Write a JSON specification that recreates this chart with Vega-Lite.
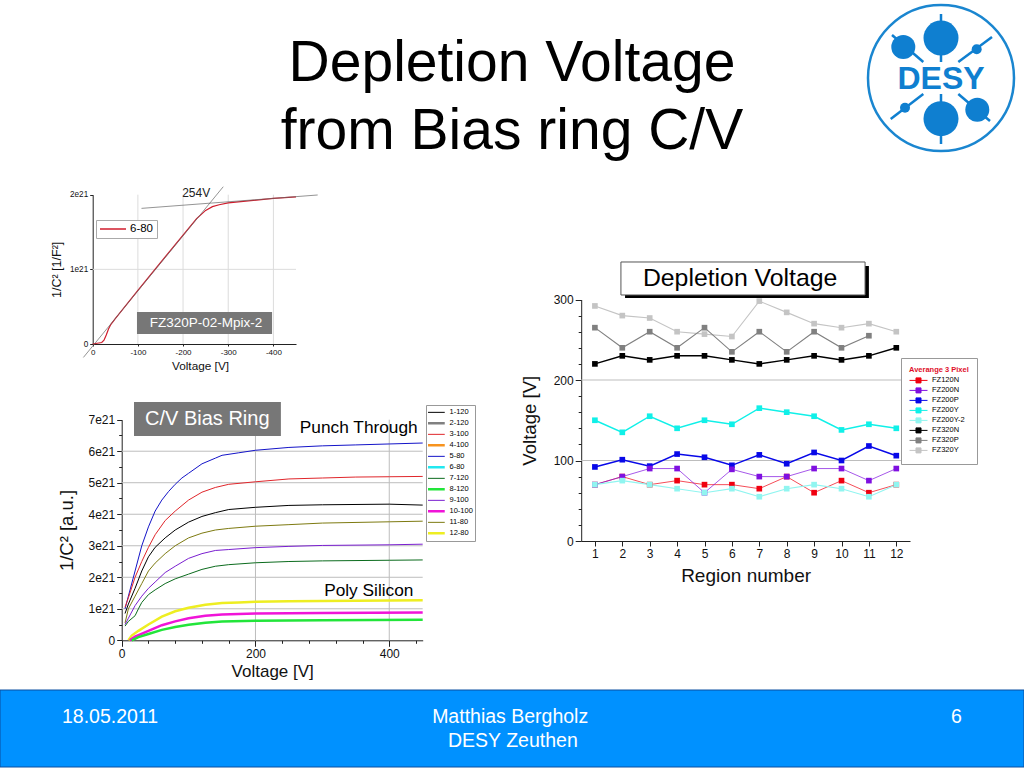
{"$schema":"https://vega.github.io/schema/vega-lite/v6.json","width":1024,"height":768,"padding":0,"autosize":{"type":"none"},"background":"white",
"title":{"text":["Depletion Voltage","from Bias ring C/V"],"fontSize":57,"font":"Liberation Sans","fontWeight":"normal","lineHeight":68,"anchor":"middle","frame":"group","offset":0,"dy":206,"baseline":"alphabetic","color":"#000"},
"config":{"font":"Liberation Sans","view":{"stroke":null},"axis":{"labelFont":"Liberation Sans","titleFont":"Liberation Sans","titleFontWeight":"normal","domainColor":"#222","tickColor":"#222","labelColor":"#111","titleColor":"#111","grid":false,"labelOverlap":false,"labelFlush":false},"legend":{"labelFont":"Liberation Sans","titleFont":"Liberation Sans"}},
"datasets":{
"footer":[{"x":0,"x2":100,"y":0,"y2":1}],
"footerText":[{"x":6.05,"y":0.65,"t":"18.05.2011"},{"x":42.2,"y":0.65,"t":"Matthias Bergholz"},{"x":43.75,"y":0.34,"t":"DESY Zeuthen"}],
"pageNo":[{"x":93.4,"y":0.65,"t":"6"}],
"logoLines":[{"x":0,"y":64,"x2":0,"y2":16},{"x":0,"y":-16,"x2":0,"y2":-66},{"x":-49,"y":43,"x2":-17.7,"y2":16},{"x":17.3,"y":-16,"x2":49,"y2":-43},{"x":51,"y":41,"x2":17.3,"y2":16},{"x":-50.3,"y":-41,"x2":-17.7,"y2":-16}],
"logoLarge":[{"x":0,"y":40},{"x":0,"y":-40.7}],
"logoMid":[{"x":-37.7,"y":31},{"x":36.3,"y":-31.7}],
"logoSmall":[{"x":35.7,"y":28.7},{"x":-36,"y":-29.7}],
"logoRing":[{"x":0,"y":0}],
"logoText":[{"x":0,"y":-1,"t":"DESY"}],
"aGrid":[{"x":-100,"x2":-100,"y":0,"y2":2},{"x":-200,"x2":-200,"y":0,"y2":2},{"x":-300,"x2":-300,"y":0,"y2":2},{"x":-400,"x2":-400,"y":0,"y2":2},{"x":0,"x2":-450,"y":1,"y2":1}],
"aCurve":[{"s":"6-80","v":0,"c":0},{"s":"6-80","v":-10,"c":0.01},{"s":"6-80","v":-20,"c":0.02},{"s":"6-80","v":-25,"c":0.05},{"s":"6-80","v":-30,"c":0.12},{"s":"6-80","v":-35,"c":0.2},{"s":"6-80","v":-40,"c":0.26},{"s":"6-80","v":-50,"c":0.34},{"s":"6-80","v":-100,"c":0.72},{"s":"6-80","v":-150,"c":1.09},{"s":"6-80","v":-200,"c":1.46},{"s":"6-80","v":-230,"c":1.68},{"s":"6-80","v":-250,"c":1.79},{"s":"6-80","v":-265,"c":1.84},{"s":"6-80","v":-280,"c":1.865},{"s":"6-80","v":-300,"c":1.89},{"s":"6-80","v":-350,"c":1.92},{"s":"6-80","v":-400,"c":1.95},{"s":"6-80","v":-450,"c":1.97}],
"aFit":[{"x":20.6,"y":-0.18,"x2":-289,"y2":2.107},{"x":-108,"y":1.817,"x2":-498,"y2":1.996}],
"aNote":[{"x":-229,"y":2.02,"t":"254V"}],
"aBox":[{"x":-98,"x2":-397,"y":0.43,"y2":0.134}],
"aBoxText":[{"x":-251,"y":0.28,"t":"FZ320P-02-Mpix-2"}],
"bGrid":[{"x":200,"x2":200,"y":0,"y2":7},{"x":400,"x2":400,"y":0,"y2":7},{"x":0,"x2":450,"y":1,"y2":1},{"x":0,"x2":450,"y":2,"y2":2},{"x":0,"x2":450,"y":3,"y2":3},{"x":0,"x2":450,"y":4,"y2":4},{"x":0,"x2":450,"y":5,"y2":5},{"x":0,"x2":450,"y":6,"y2":6}],
"ticksX40":[{"t":40},{"t":80},{"t":120},{"t":160},{"t":240},{"t":280},{"t":320},{"t":360},{"t":440}],
"bCurve":[
{"s":"5-80","v":5,"c":1.0},{"s":"5-80","v":10,"c":1.4},{"s":"5-80","v":20,"c":2.2},{"s":"5-80","v":30,"c":3.0},{"s":"5-80","v":40,"c":3.6},{"s":"5-80","v":50,"c":4.1},{"s":"5-80","v":60,"c":4.45},{"s":"5-80","v":70,"c":4.72},{"s":"5-80","v":80,"c":4.95},{"s":"5-80","v":90,"c":5.15},{"s":"5-80","v":100,"c":5.3},{"s":"5-80","v":120,"c":5.6},{"s":"5-80","v":140,"c":5.78},{"s":"5-80","v":150,"c":5.87},{"s":"5-80","v":175,"c":5.95},{"s":"5-80","v":200,"c":6.03},{"s":"5-80","v":250,"c":6.12},{"s":"5-80","v":300,"c":6.17},{"s":"5-80","v":350,"c":6.2},{"s":"5-80","v":400,"c":6.23},{"s":"5-80","v":450,"c":6.26},
{"s":"3-100","v":5,"c":1.05},{"s":"3-100","v":10,"c":1.35},{"s":"3-100","v":20,"c":2.0},{"s":"3-100","v":30,"c":2.5},{"s":"3-100","v":40,"c":2.95},{"s":"3-100","v":50,"c":3.35},{"s":"3-100","v":65,"c":3.8},{"s":"3-100","v":80,"c":4.1},{"s":"3-100","v":100,"c":4.45},{"s":"3-100","v":120,"c":4.7},{"s":"3-100","v":140,"c":4.85},{"s":"3-100","v":160,"c":4.95},{"s":"3-100","v":200,"c":5.03},{"s":"3-100","v":250,"c":5.12},{"s":"3-100","v":300,"c":5.15},{"s":"3-100","v":350,"c":5.18},{"s":"3-100","v":400,"c":5.19},{"s":"3-100","v":450,"c":5.2},
{"s":"1-120","v":5,"c":0.85},{"s":"1-120","v":10,"c":1.15},{"s":"1-120","v":20,"c":1.65},{"s":"1-120","v":30,"c":2.2},{"s":"1-120","v":40,"c":2.65},{"s":"1-120","v":50,"c":2.95},{"s":"1-120","v":65,"c":3.25},{"s":"1-120","v":80,"c":3.5},{"s":"1-120","v":100,"c":3.75},{"s":"1-120","v":120,"c":3.93},{"s":"1-120","v":140,"c":4.05},{"s":"1-120","v":160,"c":4.15},{"s":"1-120","v":200,"c":4.22},{"s":"1-120","v":250,"c":4.28},{"s":"1-120","v":300,"c":4.3},{"s":"1-120","v":400,"c":4.32},{"s":"1-120","v":450,"c":4.29},
{"s":"11-80","v":5,"c":0.55},{"s":"11-80","v":10,"c":1.0},{"s":"11-80","v":20,"c":1.4},{"s":"11-80","v":30,"c":1.8},{"s":"11-80","v":40,"c":2.2},{"s":"11-80","v":50,"c":2.45},{"s":"11-80","v":65,"c":2.75},{"s":"11-80","v":80,"c":3.0},{"s":"11-80","v":100,"c":3.25},{"s":"11-80","v":120,"c":3.4},{"s":"11-80","v":140,"c":3.5},{"s":"11-80","v":160,"c":3.55},{"s":"11-80","v":200,"c":3.62},{"s":"11-80","v":250,"c":3.67},{"s":"11-80","v":300,"c":3.72},{"s":"11-80","v":400,"c":3.76},{"s":"11-80","v":450,"c":3.78},
{"s":"9-100","v":5,"c":0.5},{"s":"9-100","v":10,"c":0.7},{"s":"9-100","v":20,"c":1.1},{"s":"9-100","v":30,"c":1.4},{"s":"9-100","v":40,"c":1.65},{"s":"9-100","v":50,"c":1.85},{"s":"9-100","v":65,"c":2.15},{"s":"9-100","v":80,"c":2.35},{"s":"9-100","v":100,"c":2.6},{"s":"9-100","v":120,"c":2.75},{"s":"9-100","v":140,"c":2.85},{"s":"9-100","v":160,"c":2.88},{"s":"9-100","v":200,"c":2.94},{"s":"9-100","v":250,"c":2.98},{"s":"9-100","v":300,"c":3.01},{"s":"9-100","v":400,"c":3.03},{"s":"9-100","v":450,"c":3.05},
{"s":"7-120","v":5,"c":0.45},{"s":"7-120","v":10,"c":0.6},{"s":"7-120","v":20,"c":0.78},{"s":"7-120","v":25,"c":1.0},{"s":"7-120","v":30,"c":1.2},{"s":"7-120","v":40,"c":1.45},{"s":"7-120","v":50,"c":1.6},{"s":"7-120","v":65,"c":1.8},{"s":"7-120","v":80,"c":1.95},{"s":"7-120","v":100,"c":2.1},{"s":"7-120","v":120,"c":2.25},{"s":"7-120","v":140,"c":2.35},{"s":"7-120","v":160,"c":2.4},{"s":"7-120","v":200,"c":2.46},{"s":"7-120","v":250,"c":2.5},{"s":"7-120","v":300,"c":2.52},{"s":"7-120","v":400,"c":2.54},{"s":"7-120","v":450,"c":2.55},
{"s":"12-80","v":10,"c":0},{"s":"12-80","v":15,"c":0.15},{"s":"12-80","v":25,"c":0.3},{"s":"12-80","v":40,"c":0.5},{"s":"12-80","v":60,"c":0.75},{"s":"12-80","v":80,"c":0.92},{"s":"12-80","v":100,"c":1.03},{"s":"12-80","v":125,"c":1.13},{"s":"12-80","v":150,"c":1.18},{"s":"12-80","v":175,"c":1.2},{"s":"12-80","v":200,"c":1.22},{"s":"12-80","v":250,"c":1.24},{"s":"12-80","v":300,"c":1.25},{"s":"12-80","v":450,"c":1.27},
{"s":"10-100","v":12,"c":0},{"s":"10-100","v":20,"c":0.12},{"s":"10-100","v":40,"c":0.3},{"s":"10-100","v":60,"c":0.48},{"s":"10-100","v":80,"c":0.6},{"s":"10-100","v":100,"c":0.7},{"s":"10-100","v":125,"c":0.78},{"s":"10-100","v":150,"c":0.82},{"s":"10-100","v":200,"c":0.85},{"s":"10-100","v":300,"c":0.87},{"s":"10-100","v":450,"c":0.88},
{"s":"8-120","v":15,"c":0},{"s":"8-120","v":25,"c":0.1},{"s":"8-120","v":40,"c":0.2},{"s":"8-120","v":60,"c":0.33},{"s":"8-120","v":80,"c":0.42},{"s":"8-120","v":100,"c":0.49},{"s":"8-120","v":125,"c":0.56},{"s":"8-120","v":150,"c":0.6},{"s":"8-120","v":200,"c":0.62},{"s":"8-120","v":300,"c":0.64},{"s":"8-120","v":450,"c":0.65}],
"bBox":[{"x":18.4,"x2":238,"y":7.565,"y2":6.485}],
"bBoxText":[{"x":128,"y":7.02,"t":"C/V Bias Ring"}],
"bNotes":[{"x":354.4,"y":6.74,"t":"Punch Through"},{"x":369.4,"y":1.565,"t":"Poly Silicon"}],
"cGrid":[{"x":0.5,"x2":12.5,"y":100,"y2":100},{"x":0.5,"x2":12.5,"y":200,"y2":200}],
"cShadow":[{"x":2.1,"x2":11.0,"y":341.6,"y2":301.9}],
"cBox":[{"x":1.95,"x2":10.86,"y":346.6,"y2":305.6}],
"cBoxText":[{"x":6.3,"y":325.5,"t":"Depletion Voltage"}],
"cCurve":[
{"s":"FZ320Y","r":1,"v":292},{"s":"FZ320Y","r":2,"v":280},{"s":"FZ320Y","r":3,"v":277},{"s":"FZ320Y","r":4,"v":260},{"s":"FZ320Y","r":5,"v":257},{"s":"FZ320Y","r":6,"v":254},{"s":"FZ320Y","r":7,"v":298},{"s":"FZ320Y","r":8,"v":284},{"s":"FZ320Y","r":9,"v":270},{"s":"FZ320Y","r":10,"v":265},{"s":"FZ320Y","r":11,"v":270},{"s":"FZ320Y","r":12,"v":260},
{"s":"FZ320P","r":1,"v":265},{"s":"FZ320P","r":2,"v":240},{"s":"FZ320P","r":3,"v":260},{"s":"FZ320P","r":4,"v":240},{"s":"FZ320P","r":5,"v":265},{"s":"FZ320P","r":6,"v":235},{"s":"FZ320P","r":7,"v":260},{"s":"FZ320P","r":8,"v":235},{"s":"FZ320P","r":9,"v":260},{"s":"FZ320P","r":10,"v":240},{"s":"FZ320P","r":11,"v":255},
{"s":"FZ320N","r":1,"v":220},{"s":"FZ320N","r":2,"v":230},{"s":"FZ320N","r":3,"v":225},{"s":"FZ320N","r":4,"v":230},{"s":"FZ320N","r":5,"v":230},{"s":"FZ320N","r":6,"v":225},{"s":"FZ320N","r":7,"v":220},{"s":"FZ320N","r":8,"v":225},{"s":"FZ320N","r":9,"v":230},{"s":"FZ320N","r":10,"v":225},{"s":"FZ320N","r":11,"v":230},{"s":"FZ320N","r":12,"v":240},
{"s":"FZ200Y","r":1,"v":150},{"s":"FZ200Y","r":2,"v":135},{"s":"FZ200Y","r":3,"v":155},{"s":"FZ200Y","r":4,"v":140},{"s":"FZ200Y","r":5,"v":150},{"s":"FZ200Y","r":6,"v":145},{"s":"FZ200Y","r":7,"v":165},{"s":"FZ200Y","r":8,"v":160},{"s":"FZ200Y","r":9,"v":155},{"s":"FZ200Y","r":10,"v":138},{"s":"FZ200Y","r":11,"v":145},{"s":"FZ200Y","r":12,"v":140},
{"s":"FZ200P","r":1,"v":92},{"s":"FZ200P","r":2,"v":101},{"s":"FZ200P","r":3,"v":93},{"s":"FZ200P","r":4,"v":108},{"s":"FZ200P","r":5,"v":104},{"s":"FZ200P","r":6,"v":94},{"s":"FZ200P","r":7,"v":107},{"s":"FZ200P","r":8,"v":96},{"s":"FZ200P","r":9,"v":110},{"s":"FZ200P","r":10,"v":100},{"s":"FZ200P","r":11,"v":118},{"s":"FZ200P","r":12,"v":106},
{"s":"FZ120N","r":1,"v":70},{"s":"FZ120N","r":2,"v":80},{"s":"FZ120N","r":3,"v":70},{"s":"FZ120N","r":4,"v":75},{"s":"FZ120N","r":5,"v":70},{"s":"FZ120N","r":6,"v":70},{"s":"FZ120N","r":7,"v":65},{"s":"FZ120N","r":8,"v":80},{"s":"FZ120N","r":9,"v":60},{"s":"FZ120N","r":10,"v":75},{"s":"FZ120N","r":11,"v":60},{"s":"FZ120N","r":12,"v":70},
{"s":"FZ200N","r":1,"v":70},{"s":"FZ200N","r":2,"v":80},{"s":"FZ200N","r":3,"v":90},{"s":"FZ200N","r":4,"v":90},{"s":"FZ200N","r":5,"v":60},{"s":"FZ200N","r":6,"v":89},{"s":"FZ200N","r":7,"v":80},{"s":"FZ200N","r":8,"v":80},{"s":"FZ200N","r":9,"v":90},{"s":"FZ200N","r":10,"v":90},{"s":"FZ200N","r":11,"v":75},{"s":"FZ200N","r":12,"v":90},
{"s":"FZ200Y-2","r":1,"v":70},{"s":"FZ200Y-2","r":2,"v":75},{"s":"FZ200Y-2","r":3,"v":70},{"s":"FZ200Y-2","r":4,"v":65},{"s":"FZ200Y-2","r":5,"v":60},{"s":"FZ200Y-2","r":6,"v":65},{"s":"FZ200Y-2","r":7,"v":55},{"s":"FZ200Y-2","r":8,"v":65},{"s":"FZ200Y-2","r":9,"v":70},{"s":"FZ200Y-2","r":10,"v":65},{"s":"FZ200Y-2","r":11,"v":55},{"s":"FZ200Y-2","r":12,"v":70}]
},
"layer":[
{"layer":[
{"data":{"name":"footer"},"mark":{"type":"rect","fill":"#0091ff","stroke":"#0b4fa0","strokeWidth":1},"encoding":{"x":{"field":"x","type":"quantitative","scale":{"domain":[0,100],"range":[0,1024],"nice":false},"axis":null},"x2":{"field":"x2"},"y":{"field":"y","type":"quantitative","scale":{"domain":[0,1],"range":[767,690],"nice":false},"axis":null},"y2":{"field":"y2"}}},
{"data":{"name":"footerText"},"mark":{"type":"text","align":"left","baseline":"middle","fontSize":19.5,"color":"white"},"encoding":{"x":{"field":"x","type":"quantitative","axis":null},"y":{"field":"y","type":"quantitative","axis":null},"text":{"field":"t"}}},
{"data":{"name":"pageNo"},"mark":{"type":"text","align":"center","baseline":"middle","fontSize":19.5,"color":"white"},"encoding":{"x":{"field":"x","type":"quantitative","axis":null},"y":{"field":"y","type":"quantitative","axis":null},"text":{"field":"t"}}}
]},
{"layer":[
{"data":{"name":"logoRing"},"mark":{"type":"point","shape":"circle","size":21316,"filled":false,"stroke":"#1a86d0","strokeWidth":2.5,"opacity":1},"encoding":{"x":{"field":"x","type":"quantitative","scale":{"domain":[-73,73],"range":[868,1014],"nice":false},"axis":null},"y":{"field":"y","type":"quantitative","scale":{"domain":[-73,73],"range":[151,5],"nice":false},"axis":null}}},
{"data":{"name":"logoLines"},"mark":{"type":"rule","stroke":"#0f7fd0","strokeWidth":2.5},"encoding":{"x":{"field":"x","type":"quantitative","axis":null},"x2":{"field":"x2"},"y":{"field":"y","type":"quantitative","axis":null},"y2":{"field":"y2"}}},
{"data":{"name":"logoLarge"},"mark":{"type":"circle","size":1225,"color":"#0f7fd0","opacity":1},"encoding":{"x":{"field":"x","type":"quantitative","axis":null},"y":{"field":"y","type":"quantitative","axis":null}}},
{"data":{"name":"logoMid"},"mark":{"type":"circle","size":576,"color":"#0f7fd0","opacity":1},"encoding":{"x":{"field":"x","type":"quantitative","axis":null},"y":{"field":"y","type":"quantitative","axis":null}}},
{"data":{"name":"logoSmall"},"mark":{"type":"circle","size":100,"color":"#0f7fd0","opacity":1},"encoding":{"x":{"field":"x","type":"quantitative","axis":null},"y":{"field":"y","type":"quantitative","axis":null}}},
{"data":{"name":"logoText"},"mark":{"type":"text","fontSize":32,"fontWeight":"bold","color":"#0f7fd0","align":"center","baseline":"middle"},"encoding":{"x":{"field":"x","type":"quantitative","axis":null},"y":{"field":"y","type":"quantitative","axis":null},"text":{"field":"t"}}}
]},
{"resolve":{"axis":{"x":"independent","y":"independent"}},"layer":[
{"data":{"name":"aGrid"},"mark":{"type":"rule","stroke":"#dcdcdc","strokeWidth":1},"encoding":{"x":{"field":"x","type":"quantitative","axis":null},"x2":{"field":"x2"},"y":{"field":"y","type":"quantitative","axis":null},"y2":{"field":"y2"}}},
{"data":{"name":"aCurve"},"mark":{"type":"line","strokeWidth":1.2},"encoding":{
"x":{"field":"v","type":"quantitative","scale":{"domain":[-450,0],"range":[296,92.7],"nice":false,"zero":false},"axis":{"orient":"bottom","offset":-424,"values":[0,-100,-200,-300,-400],"labelExpr":"datum.value==0?'0':'-'+abs(datum.value)","labelFontSize":8,"tickSize":2,"title":"Voltage [V]","titleFontSize":11.8,"titlePadding":4,"titleX":200}},
"y":{"field":"c","type":"quantitative","scale":{"domain":[0,2],"range":[344,194.7],"nice":false},"axis":{"orient":"left","offset":-92.7,"values":[0,1,2],"labelExpr":"datum.value==0?'0':datum.value+'e21'","labelFontSize":8.2,"tickSize":3,"title":"1/C² [1/F²]","titleFontSize":12.5,"titlePadding":6}},
"color":{"field":"s","type":"nominal","scale":{"domain":["6-80"],"range":["#d01c2c"]},"legend":{"orient":"none","legendX":96,"legendY":220,"title":null,"symbolType":"stroke","symbolSize":676,"clipHeight":12,"labelFontSize":11.5,"labelOffset":3,"strokeColor":"#aaa","fillColor":"white","padding":3}}}},
{"data":{"name":"aFit"},"mark":{"type":"rule","stroke":"#666","strokeWidth":0.7},"encoding":{"x":{"field":"x","type":"quantitative","axis":null},"x2":{"field":"x2"},"y":{"field":"y","type":"quantitative","axis":null},"y2":{"field":"y2"}}},
{"data":{"name":"aNote"},"mark":{"type":"text","fontSize":12,"color":"#222"},"encoding":{"x":{"field":"x","type":"quantitative","axis":null},"y":{"field":"y","type":"quantitative","axis":null},"text":{"field":"t"}}},
{"data":{"name":"aBox"},"mark":{"type":"rect","fill":"#777777"},"encoding":{"x":{"field":"x","type":"quantitative","axis":null},"x2":{"field":"x2"},"y":{"field":"y","type":"quantitative","axis":null},"y2":{"field":"y2"}}},
{"data":{"name":"aBoxText"},"mark":{"type":"text","fontSize":13.5,"color":"white"},"encoding":{"x":{"field":"x","type":"quantitative","axis":null},"y":{"field":"y","type":"quantitative","axis":null},"text":{"field":"t"}}}
]},
{"resolve":{"axis":{"x":"independent","y":"independent"}},"layer":[
{"data":{"name":"bGrid"},"mark":{"type":"rule","stroke":"#bdbdbd","strokeWidth":1},"encoding":{"x":{"field":"x","type":"quantitative","axis":null},"x2":{"field":"x2"},"y":{"field":"y","type":"quantitative","axis":null},"y2":{"field":"y2"}}},
{"data":{"name":"bCurve"},"mark":{"type":"line"},"encoding":{
"x":{"field":"v","type":"quantitative","scale":{"domain":[0,450],"range":[121.7,422.7],"nice":false},"axis":{"orient":"bottom","offset":-127.7,"values":[0,200,400],"labelFontSize":12,"tickSize":6,"title":"Voltage [V]","titleFontSize":17,"titlePadding":4}},
"y":{"field":"c","type":"quantitative","scale":{"domain":[0,7],"range":[640.3,419.7],"nice":false},"axis":{"orient":"left","offset":-121.7,"values":[0,1,2,3,4,5,6,7],"labelExpr":"datum.value==0?'0':datum.value+'e21'","labelFontSize":12,"tickSize":5,"title":"1/C² [a.u.]","titleFontSize":18.5,"titlePadding":12}},
"color":{"field":"s","type":"nominal","scale":{"domain":["1-120","2-120","3-100","4-100","5-80","6-80","7-120","8-120","9-100","10-100","11-80","12-80"],"range":["#000000","#808080","#e0262b","#f7931e","#1414c8","#22e8f0","#0b6b1d","#22e53a","#7a1fd0","#f014d8","#7d7a10","#eeee22"]},"legend":{"orient":"none","legendX":426,"legendY":405,"title":null,"symbolType":"stroke","symbolSize":400,"clipHeight":10.7,"rowPadding":0,"labelFontSize":7.5,"labelOffset":11,"symbolOffset":3,"strokeColor":"#999","fillColor":"white","padding":2,"encode":{"symbols":{"update":{"strokeWidth":{"signal":"indexof(['2-120','4-100','6-80','8-120','10-100','12-80'],datum.value)>=0?2.5:1"}}}}}},
"strokeWidth":{"condition":{"test":"indexof(['2-120','4-100','6-80','8-120','10-100','12-80'],datum.s)>=0","value":2.5},"value":1}}},
{"data":{"name":"ticksX40"},"mark":{"type":"point","opacity":0},"encoding":{"x":{"field":"t","type":"quantitative","axis":{"orient":"bottom","offset":-127.7,"values":[40,80,120,160,240,280,320,360,440],"labels":false,"domain":false,"tickSize":3,"title":null}}}},
{"data":{"values":[{"t":0.5},{"t":1.5},{"t":2.5},{"t":3.5},{"t":4.5},{"t":5.5},{"t":6.5}]},"mark":{"type":"point","opacity":0},"encoding":{"y":{"field":"t","type":"quantitative","axis":{"orient":"left","offset":-121.7,"values":[0.5,1.5,2.5,3.5,4.5,5.5,6.5],"labels":false,"domain":false,"tickSize":3,"title":null}}}},
{"data":{"name":"bBox"},"mark":{"type":"rect","fill":"#777777"},"encoding":{"x":{"field":"x","type":"quantitative","axis":null},"x2":{"field":"x2"},"y":{"field":"y","type":"quantitative","axis":null},"y2":{"field":"y2"}}},
{"data":{"name":"bBoxText"},"mark":{"type":"text","fontSize":20,"color":"white"},"encoding":{"x":{"field":"x","type":"quantitative","axis":null},"y":{"field":"y","type":"quantitative","axis":null},"text":{"field":"t"}}},
{"data":{"name":"bNotes"},"mark":{"type":"text","fontSize":17.3,"color":"#000"},"encoding":{"x":{"field":"x","type":"quantitative","axis":null},"y":{"field":"y","type":"quantitative","axis":null},"text":{"field":"t"}}}
]},
{"resolve":{"axis":{"x":"independent","y":"independent"}},"layer":[
{"data":{"name":"cGrid"},"mark":{"type":"rule","stroke":"#bdbdbd","strokeWidth":1},"encoding":{"x":{"field":"x","type":"quantitative","axis":null},"x2":{"field":"x2"},"y":{"field":"y","type":"quantitative","axis":null},"y2":{"field":"y2"}}},
{"data":{"name":"cCurve"},"mark":{"type":"line","point":{"shape":"square","size":32,"filled":true,"opacity":1}},"encoding":{
"x":{"field":"r","type":"quantitative","scale":{"domain":[0.5,12.5],"range":[581.2,910],"nice":false,"zero":false},"axis":{"orient":"bottom","offset":-227,"values":[1,2,3,4,5,6,7,8,9,10,11,12],"format":"d","labelFontSize":12,"tickSize":5,"title":"Region number","titleFontSize":19,"titlePadding":7}},
"y":{"field":"v","type":"quantitative","scale":{"domain":[0,300],"range":[541,299.5],"nice":false},"axis":{"orient":"left","offset":-581.2,"values":[0,100,200,300],"labelFontSize":12,"tickSize":6,"title":"Voltage [V]","titleFontSize":18.6,"titlePadding":14}},
"color":{"field":"s","type":"nominal","scale":{"domain":["FZ120N","FZ200N","FZ200P","FZ200Y","FZ200Y-2","FZ320N","FZ320P","FZ320Y"],"range":["#f00010","#7f10e0","#0808e8","#10f0e8","#90f5f0","#000000","#808080","#c4c4c4"]},"legend":{"orient":"none","legendX":901,"legendY":358,"title":"Averange 3 Pixel","titleColor":"#e0102a","titleFontSize":7.5,"titleFontWeight":"bold","symbolSize":324,"symbolType":"M-1,0L1,0M-0.28,-0.28H0.28V0.28H-0.28Z","clipHeight":9.8,"rowPadding":0,"labelFontSize":7.5,"labelOffset":4,"strokeColor":"#999","fillColor":"white","padding":8,"titlePadding":2,"encode":{"symbols":{"update":{"stroke":{"signal":"{'FZ120N':'#f00010','FZ200N':'#7f10e0','FZ200P':'#0808e8','FZ200Y':'#10f0e8','FZ200Y-2':'#90f5f0','FZ320N':'#000000','FZ320P':'#808080','FZ320Y':'#c4c4c4'}[datum.value]"},"strokeWidth":{"value":1}}}}}},
"strokeWidth":{"condition":[{"test":"indexof(['FZ200P','FZ200Y','FZ320N'],datum.s)>=0","value":1.5},{"test":"indexof(['FZ120N','FZ200N'],datum.s)>=0","value":0.7}],"value":1.1}}},
{"data":{"values":[{"t":20},{"t":40},{"t":60},{"t":80},{"t":120},{"t":140},{"t":160},{"t":180},{"t":220},{"t":240},{"t":260},{"t":280}]},"mark":{"type":"point","opacity":0},"encoding":{"y":{"field":"t","type":"quantitative","axis":{"orient":"left","offset":-581.2,"values":[20,40,60,80,120,140,160,180,220,240,260,280],"labels":false,"domain":false,"tickSize":3,"title":null}}}},
{"data":{"name":"cShadow"},"mark":{"type":"rect","fill":"#000"},"encoding":{"x":{"field":"x","type":"quantitative","axis":null},"x2":{"field":"x2"},"y":{"field":"y","type":"quantitative","axis":null},"y2":{"field":"y2"}}},
{"data":{"name":"cBox"},"mark":{"type":"rect","fill":"white","stroke":"#555","strokeWidth":1},"encoding":{"x":{"field":"x","type":"quantitative","axis":null},"x2":{"field":"x2"},"y":{"field":"y","type":"quantitative","axis":null},"y2":{"field":"y2"}}},
{"data":{"name":"cBoxText"},"mark":{"type":"text","fontSize":24.8,"color":"#000"},"encoding":{"x":{"field":"x","type":"quantitative","axis":null},"y":{"field":"y","type":"quantitative","axis":null},"text":{"field":"t"}}}
]}
],
"resolve":{"scale":{"x":"independent","y":"independent","color":"independent","strokeWidth":"independent"},"axis":{"x":"independent","y":"independent"},"legend":{"color":"independent","strokeWidth":"independent"}}
}
